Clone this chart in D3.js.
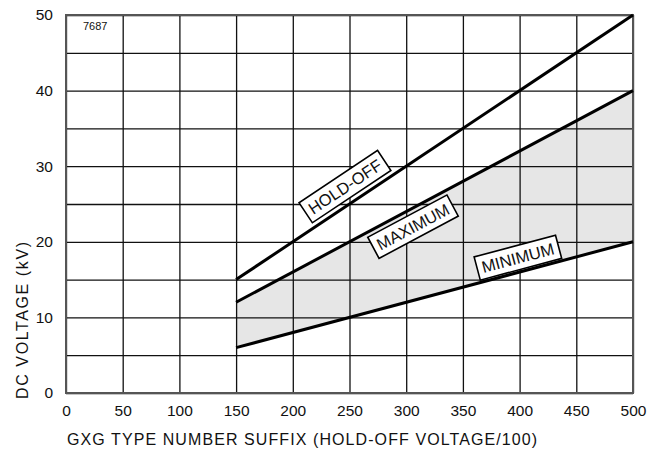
<!DOCTYPE html>
<html lang="en">
<head>
    <meta charset="UTF-8">
    <title>GXG voltage chart</title>
    <style>
        body{
            margin:0;
            background:#fff;
        }
        text{
            font-family:"Liberation Sans", Arial, sans-serif;
        }
    </style>
    <script src="https://cdn.jsdelivr.net/npm/d3@7"></script>
</head>
<body>
<div id ='container'>
</div>
</body>
<script>
    // values
    var suffix = [150, 500];
    var holdOff = [15, 50];
    var maximum = [12, 40];
    var minimum = [6, 20];
    var seriesNames = ['HOLD-OFF', 'MAXIMUM', 'MINIMUM'];
    var xTicks = [0, 50, 100, 150, 200, 250, 300, 350, 400, 450, 500];
    var yTicks = [0, 10, 20, 30, 40, 50];
    var yGrid = d3.range(0, 51, 5);

    // note: "top" is taken by window.top, so pad* names
    var w = 654, h = 449,
        padL = 66, padR = 633, padT = 15, padB = 393;

    var xScale = d3.scaleLinear().domain([0, 500]).range([padL, padR]),
        yScale = d3.scaleLinear().domain([0, 50]).range([padB, padT]);

    var svg = d3.select('#container').append('svg').attr('width', w).attr('height', h);

    // shaded band between max and min
    var band = suffix.map(function (d, i) { return [d, maximum[i], minimum[i]]; });
    svg.append('path')
        .datum(band)
        .attr('fill', '#e6e6e6')
        .attr('d', d3.area()
            .x(function (d) { return xScale(d[0]); })
            .y0(function (d) { return yScale(d[2]); })
            .y1(function (d) { return yScale(d[1]); }));

    // grid through the axes
    var xGrid = d3.axisBottom(xScale).tickValues(xTicks).tickSize(-(padB - padT)).tickFormat('');
    var yGridAxis = d3.axisLeft(yScale).tickValues(yGrid).tickSize(-(padR - padL)).tickFormat('');
    svg.append('g').attr('class', 'grid').attr('transform', 'translate(0,' + padB + ')').call(xGrid);
    svg.append('g').attr('class', 'grid').attr('transform', 'translate(' + padL + ',0)').call(yGridAxis);
    svg.selectAll('.grid .domain').remove();
    svg.selectAll('.grid line').attr('stroke', '#111').attr('stroke-width', 1.3);

    // frame
    svg.append('rect')
        .attr('x', padL).attr('y', padT)
        .attr('width', padR - padL).attr('height', padB - padT)
        .attr('fill', 'none').attr('stroke', '#555').attr('stroke-width', 2);

    // tick labels
    var xAxis = d3.axisBottom(xScale).tickValues(xTicks).tickSize(0).tickPadding(12);
    var yAxis = d3.axisLeft(yScale).tickValues(yTicks).tickSize(0).tickPadding(13);
    var gx = svg.append('g').attr('transform', 'translate(0,' + padB + ')').call(xAxis);
    var gy = svg.append('g').attr('transform', 'translate(' + padL + ',0)').call(yAxis);
    [gx, gy].forEach(function (g) {
        g.select('.domain').remove();
        g.selectAll('text').attr('font-family', '"Liberation Sans", Arial, sans-serif')
            .attr('font-size', '15.5px').attr('fill', '#111');
    });

    // lines
    var series = [holdOff, maximum, minimum];
    var line = d3.line()
        .x(function (d) { return xScale(d[0]); })
        .y(function (d) { return yScale(d[1]); });
    svg.selectAll('.series').data(series).enter().append('path')
        .attr('class', 'series')
        .attr('fill', 'none').attr('stroke', '#000').attr('stroke-width', 3)
        .attr('d', function (s) { return line(suffix.map(function (x, i) { return [x, s[i]]; })); });

    // boxed labels along each line
    var labelAt = [[246, 27.3], [306, 22.0], [398.5, 17.9]];
    seriesNames.forEach(function (name, i) {
        var s = series[i];
        var ang = Math.atan2(yScale(s[1]) - yScale(s[0]), xScale(suffix[1]) - xScale(suffix[0])) * 180 / Math.PI;
        var g = svg.append('g')
            .attr('transform', 'translate(' + xScale(labelAt[i][0]) + ',' + yScale(labelAt[i][1]) + ') rotate(' + ang + ')');
        var r = g.append('rect').attr('fill', '#fff').attr('stroke', '#000').attr('stroke-width', 1.6);
        var t = g.append('text').text(name)
            .attr('text-anchor', 'middle').attr('dy', '0.36em')
            .attr('font-size', '16.5px').attr('fill', '#111');
        var b = t.node().getBBox();
        r.attr('x', b.x - 5).attr('y', -12).attr('width', b.width + 10).attr('height', 24);
    });

    // small figure number
    svg.append('text').text('7687')
        .attr('x', 83).attr('y', 30)
        .attr('font-size', '11px').attr('fill', '#111');

    // axis titles
    svg.append('text').text('GXG TYPE NUMBER SUFFIX (HOLD-OFF VOLTAGE/100)')
        .attr('x', padL + 1).attr('y', 445)
        .attr('textLength', 470).attr('lengthAdjust', 'spacing')
        .attr('font-size', '16px').attr('fill', '#111');
    svg.append('text').text('DC VOLTAGE (kV)')
        .attr('transform', 'translate(28,' + (padB + 6) + ') rotate(-90)')
        .attr('textLength', 157).attr('lengthAdjust', 'spacing')
        .attr('font-size', '16px').attr('fill', '#111');
</script>
</html>
